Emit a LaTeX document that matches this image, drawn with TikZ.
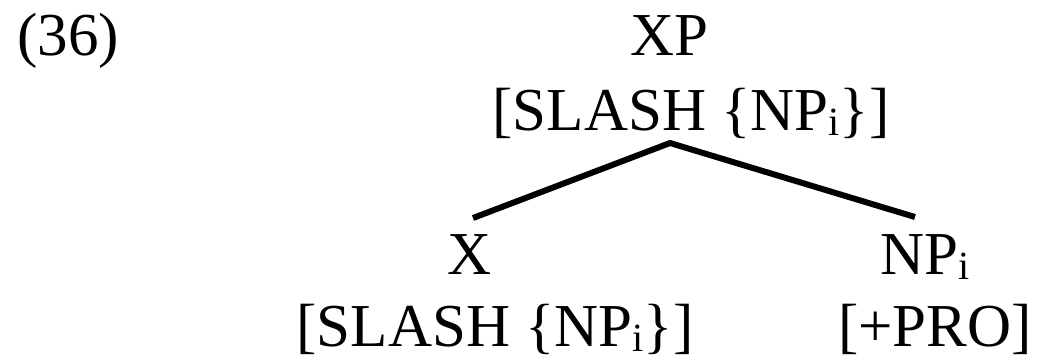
\documentclass[tikz,border=0pt]{standalone}
\usepackage{fontspec}
\setmainfont{Liberation Serif}
\usepackage{tikz}
\usetikzlibrary{calc}

\newcommand{\idx}{\raisebox{-5pt}{\fontsize{40pt}{40pt}\selectfont i}}

\begin{document}
\begin{tikzpicture}[
    x=1pt,y=-1pt,
    every node/.style={inner sep=0pt,anchor=base,font=\fontsize{61pt}{70pt}\selectfont},
    cat/.style={},
    feat/.style={},
    exnum/.style={anchor=base west},
    branch/.style={draw=black,line width=6pt}
  ]
    \useasboundingbox (0,0) rectangle (1037,360);
    \node[exnum] (exnum) at (17,55) {(36)};

    \node[cat] (xp) at (669,55) {XP};
    \node[feat] (xpfeat) at (691,130) {[SLASH \{NP\idx\}]};

    \node[cat] (x) at (470,274) {X};
    \node[feat] (xfeat) at (495,346) {[SLASH \{NP\idx\}]};

    \node[cat] (np) at (925,274) {NP\idx};
    \node[feat] (npfeat) at (935,346) {[+PRO]};

    \coordinate (apex) at ($(xp.base)+(1,88)$);
    \coordinate (xtop) at ($(x.base)+(3,-56)$);
    \coordinate (nptop) at ($(np.base)+(-10,-57)$);
    \draw[branch] (xtop) -- (apex) -- (nptop);
  \end{tikzpicture}
\end{document}
